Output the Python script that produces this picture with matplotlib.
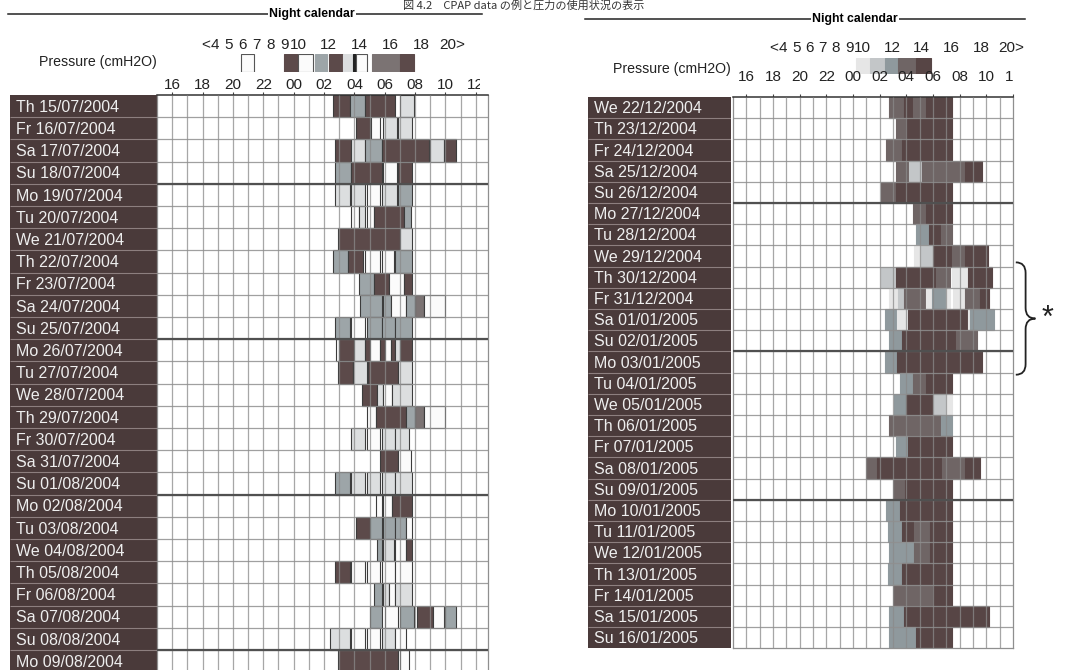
import numpy as np
import matplotlib.pyplot as plt
from matplotlib.patches import PathPatch
from matplotlib.path import Path
from matplotlib.lines import Line2D
from matplotlib.transforms import blended_transform_factory, Bbox, TransformedBbox

plt.rcParams['font.family'] = ['Liberation Sans', 'DejaVu Sans']

W, H = 1068, 670

# ---- data ----
left_dates = ["Th 15/07/2004", "Fr 16/07/2004", "Sa 17/07/2004", "Su 18/07/2004",
              "Mo 19/07/2004", "Tu 20/07/2004", "We 21/07/2004", "Th 22/07/2004",
              "Fr 23/07/2004", "Sa 24/07/2004", "Su 25/07/2004", "Mo 26/07/2004",
              "Tu 27/07/2004", "We 28/07/2004", "Th 29/07/2004", "Fr 30/07/2004",
              "Sa 31/07/2004", "Su 01/08/2004", "Mo 02/08/2004", "Tu 03/08/2004",
              "We 04/08/2004", "Th 05/08/2004", "Fr 06/08/2004", "Sa 07/08/2004",
              "Su 08/08/2004", "Mo 09/08/2004"]

right_dates = ["We 22/12/2004", "Th 23/12/2004", "Fr 24/12/2004", "Sa 25/12/2004",
               "Su 26/12/2004", "Mo 27/12/2004", "Tu 28/12/2004", "We 29/12/2004",
               "Th 30/12/2004", "Fr 31/12/2004", "Sa 01/01/2005", "Su 02/01/2005",
               "Mo 03/01/2005", "Tu 04/01/2005", "We 05/01/2005", "Th 06/01/2005",
               "Fr 07/01/2005", "Sa 08/01/2005", "Su 09/01/2005", "Mo 10/01/2005",
               "Tu 11/01/2005", "We 12/01/2005", "Th 13/01/2005", "Fr 14/01/2005",
               "Sa 15/01/2005", "Su 16/01/2005"]

# (start hour, end hour, pressure colour) -- hours past 24 are next morning
left_segments = [
    [(26.6, 27.7, 'd'), (27.7, 28.7, 'm'), (28.7, 30.7, 'd'), (31.0, 31.9, 'l')],
    [(28.1, 29.0, 'd'), (29.1, 29.7, 'w'), (29.9, 30.8, 'l'), (30.9, 31.8, 'l')],
    [(26.7, 27.8, 'd'), (27.8, 28.7, 'l'), (28.7, 29.8, 'm'), (29.8, 32.9, 'd'), (33.0, 33.9, 'l'), (33.9, 34.7, 'd')],
    [(26.7, 27.8, 'm'), (27.8, 29.8, 'd'), (29.9, 30.8, 'w'), (30.9, 31.8, 'd')],
    [(26.7, 27.7, 'l'), (27.8, 28.7, 'l'), (28.8, 29.7, 'w'), (29.8, 30.8, 'l'), (30.9, 31.8, 'm')],
    [(27.8, 28.3, 'w'), (28.3, 28.7, 'l'), (28.8, 29.3, 'w'), (29.3, 31.3, 'd'), (31.3, 31.7, 'm')],
    [(26.9, 31.0, 'd'), (31.0, 31.8, 'l')],
    [(26.6, 27.6, 'm'), (27.6, 28.6, 'd'), (28.7, 29.7, 'w'), (29.8, 30.6, 'w'), (30.7, 31.8, 'm')],
    [(28.3, 29.3, 'm'), (29.3, 30.3, 'd'), (30.3, 31.3, 'w'), (31.3, 31.8, 'd')],
    [(28.4, 29.8, 'm'), (29.9, 30.4, 'm'), (30.4, 31.4, 'w'), (31.4, 32.0, 'm'), (32.0, 32.6, 'g'), (32.6, 34.0, 'w')],
    [(26.7, 27.7, 'm'), (27.8, 28.7, 'w'), (28.8, 29.8, 'm'), (29.8, 30.7, 'm'), (30.7, 31.8, 'm')],
    [(26.8, 27.0, 'w'), (27.0, 28.0, 'd'), (28.0, 28.7, 'l'), (28.7, 29.0, 'd'), (29.0, 29.7, 'w'),
     (29.7, 30.0, 'd'), (30.0, 30.4, 'w'), (30.4, 30.7, 'd'), (30.7, 31.0, 'l'), (31.0, 31.8, 'd')],
    [(26.9, 27.9, 'd'), (27.9, 28.8, 'l'), (28.9, 30.9, 'd'), (30.9, 31.8, 'l')],
    [(28.5, 29.5, 'd'), (29.5, 29.9, 'l'), (29.9, 30.5, 'w'), (30.5, 31.8, 'l')],
    [(28.8, 29.4, 'w'), (29.4, 31.4, 'd'), (31.4, 32.0, 'm'), (32.0, 32.6, 'g'), (32.6, 34.0, 'w')],
    [(27.8, 28.7, 'l'), (28.8, 29.7, 'w'), (29.8, 30.7, 'l'), (30.7, 31.6, 'l')],
    [(29.7, 30.9, 'd'), (30.9, 31.7, 'w')],
    [(26.7, 27.7, 'm'), (27.8, 28.7, 'l'), (28.8, 29.7, 'l'), (29.8, 30.7, 'l'), (30.7, 31.8, 'l')],
    [(29.4, 29.8, 'w'), (29.9, 30.5, 'w'), (30.5, 31.8, 'd')],
    [(28.1, 29.0, 'd'), (29.0, 29.8, 'm'), (29.9, 30.7, 'm'), (30.7, 31.4, 'm'), (31.4, 31.8, 'w')],
    [(29.5, 29.8, 'm'), (29.9, 30.6, 'l'), (30.7, 31.4, 'w'), (31.4, 31.8, 'd')],
    [(26.7, 27.7, 'd'), (27.8, 28.7, 'w'), (28.8, 29.7, 'w'), (29.8, 30.7, 'w'), (30.7, 31.8, 'w')],
    [(29.3, 29.8, 'm'), (29.9, 30.3, 'l'), (30.3, 30.7, 'w'), (30.7, 31.8, 'l')],
    [(29.0, 29.8, 'm'), (30.0, 30.9, 'w'), (31.0, 31.9, 'm'), (32.1, 33.2, 'd'), (33.2, 33.9, 'w'), (34.0, 34.7, 'm')],
    [(26.4, 27.7, 'l'), (27.8, 28.7, 'w'), (28.8, 29.7, 'w'), (29.8, 30.7, 'l'), (30.7, 31.4, 'w')],
    [(26.9, 30.9, 'd'), (31.0, 31.6, 'w')],
]

right_segments = [
    [(26.7, 27.8, 4), (27.8, 28.5, 5), (28.5, 29.5, 4), (29.5, 31.4, 5)],
    [(27.2, 28.0, 4), (28.0, 31.4, 5)],
    [(26.5, 27.7, 4), (27.7, 31.4, 5)],
    [(27.2, 28.2, 4), (28.2, 29.2, 2), (29.2, 32.4, 4), (32.4, 33.7, 5)],
    [(26.1, 27.2, 4), (27.2, 31.4, 5)],
    [(28.5, 29.5, 4), (29.5, 31.4, 5)],
    [(28.7, 29.7, 3), (29.7, 30.6, 5), (30.6, 31.4, 4)],
    [(28.6, 29.1, 1), (29.1, 30.0, 2), (30.0, 31.4, 5), (31.4, 32.4, 4), (32.4, 34.1, 5)],
    [(26.1, 27.2, 2), (27.2, 30.2, 5), (30.2, 31.3, 4), (31.4, 32.6, 1), (32.6, 34.4, 5)],
    [(26.7, 27.4, 1), (27.4, 27.8, 2), (27.8, 29.5, 4), (29.5, 29.9, 1), (29.9, 31.0, 3),
     (31.0, 31.3, 1), (31.5, 32.4, 1), (32.4, 33.5, 4), (33.5, 34.2, 5)],
    [(26.4, 27.3, 3), (27.3, 27.5, 1), (27.6, 28.1, 1), (28.1, 32.6, 5), (32.6, 32.8, 1), (32.8, 34.6, 3)],
    [(26.7, 27.7, 3), (27.7, 31.7, 5), (31.7, 33.3, 4)],
    [(26.4, 27.3, 3), (27.3, 33.7, 5)],
    [(27.5, 28.5, 3), (28.5, 29.5, 4), (29.5, 31.4, 5)],
    [(27.1, 28.0, 3), (28.0, 30.0, 5), (30.0, 31.0, 2), (31.0, 31.4, 1)],
    [(26.7, 30.6, 4), (30.6, 31.4, 3)],
    [(27.2, 28.1, 3), (28.1, 31.4, 5)],
    [(25.0, 25.8, 4), (25.8, 30.7, 5), (30.7, 32.4, 4), (32.4, 33.5, 5)],
    [(27.0, 27.9, 4), (27.9, 31.4, 5)],
    [(26.5, 27.5, 3), (27.5, 31.4, 5)],
    [(26.6, 27.7, 3), (27.7, 28.6, 5), (28.6, 29.8, 4), (29.8, 31.4, 5)],
    [(26.7, 28.6, 3), (28.6, 29.8, 4), (29.8, 31.4, 5)],
    [(26.6, 27.7, 3), (27.7, 31.4, 5)],
    [(27.0, 30.0, 4), (30.0, 31.4, 5)],
    [(26.7, 27.8, 3), (27.8, 34.2, 5)],
    [(26.7, 28.7, 3), (28.7, 31.4, 5)],
]

legend_ticks = [3.3, 4, 5, 6, 7, 8, 9, 10, 12, 14, 16, 18, 20]
legend_labels = ['<', '4', '5', '6', '7', '8', '9', '10', '12', '14', '16', '18', '20>']
left_swatches = [(5.9, 6.8, 'w'), (9.0, 10.0, 'd'), (10.0, 11.0, 'w'), (11.1, 11.9, 'm'),
                 (12.0, 12.9, 'd'), (12.9, 13.6, 'l'), (13.6, 13.75, 'k'), (13.75, 14.5, 'w'),
                 (14.8, 16.6, 'g'), (16.6, 17.5, 'd')]
right_swatches = [(9.5, 10.5, 1), (10.5, 11.5, 2), (11.5, 12.4, 3), (12.4, 13.6, 4), (13.6, 14.6, 5)]

hour_ticks = list(range(16, 37, 2))

left_colors = {'w': '#fbfbfb', 'l': '#dcdedf', 'm': '#9da5a8', 'g': '#7b7373',
               'd': '#5c4a4a', 'k': '#222222'}
right_colors = {1: '#e6e6e6', 2: '#c3c6c8', 3: '#8f999d', 4: '#6f6565', 5: '#574545'}


def px_box(x0, y0, x1, y1):
    return [x0 / W, 1 - y1 / H, (x1 - x0) / W, (y1 - y0) / H]


def p_fwd(p):
    p = np.asarray(p, dtype=float)
    return np.where(p <= 10, p, 10 + (p - 10) * 1.12)


def p_inv(f):
    f = np.asarray(f, dtype=float)
    return np.where(f <= 10, f, 10 + (f - 10) / 1.12)


def draw_panel(fig, dates, segments, colors, outline, swatches, g):
    n = len(dates)
    bottom = g['top'] + n * g['row_h']

    # header "Night calendar"
    y = 1 - g['head_y'] / H
    fig.add_artist(Line2D([g['head_x'][0] / W, g['head_x'][1] / W], [y, y], color='#222', lw=1.1))
    fig.text(g['head_c'] / W, y, 'Night calendar', ha='center', va='center', fontsize=8.8,
             fontweight='bold', bbox=dict(facecolor='white', edgecolor='none', pad=0.6))
    fig.text(g['press'][0] / W, 1 - g['press'][1] / H, 'Pressure (cmH2O)', ha='center',
             va='center', fontsize=10.2, color='#222')

    # pressure legend
    lg = fig.add_axes(px_box(*g['legend']))
    lg.set_xscale('function', functions=(p_fwd, p_inv))
    lg.set_xlim(*g['legend_lim'])
    lg.set_ylim(0, 1)
    for s, e, c in swatches:
        lg.barh(0, e - s, left=s, height=1, align='edge', color=colors[c],
                edgecolor='#555' if c == 'w' else colors[c], lw=0.8)
    lg.set_xticks(legend_ticks, legend_labels)
    lg.xaxis.tick_top()
    lg.tick_params(axis='x', length=0, pad=g['legend_pad'], labelsize=11, labelcolor='#222')
    lg.set_yticks([])
    for sp in lg.spines.values():
        sp.set_visible(False)
    lg.patch.set_alpha(0)

    # date labels
    la = fig.add_axes(px_box(g['label_x'][0], g['top'], g['label_x'][1], bottom))
    la.set_facecolor('#4a3a3a')
    la.set_xlim(0, 1)
    la.set_ylim(n, 0)
    for i, d in enumerate(dates):
        la.text(0.04, i + 0.55, d, va='center', ha='left', fontsize=11.5, color='#eeeeee')
    la.hlines(range(1, n), 0, 1, color='#8d7f7f', lw=0.8)
    la.set_xticks([])
    la.set_yticks([])
    for sp in la.spines.values():
        sp.set_visible(False)

    # night grid
    ax = fig.add_axes(px_box(g['grid_x'][0], g['top'], g['grid_x'][1], bottom))
    ax.set_xlim(*g['hours'])
    ax.set_ylim(n, 0)
    for i, row in enumerate(segments):
        for s, e, c in row:
            ax.barh(i, e - s, left=s, height=1, align='edge', color=colors[c],
                    edgecolor=outline if outline else colors[c], lw=0.8, zorder=2)
    ax.vlines(range(16, int(np.ceil(g['hours'][1]))), 0, n, color='#8a8a8a', lw=0.9, alpha=0.75, zorder=3)
    ax.hlines(range(1, n), g['hours'][0], g['hours'][1], color='#8f8f8f', lw=0.9, alpha=0.85, zorder=3)
    sundays = [i + 1 for i, d in enumerate(dates) if d.startswith('Su') and i + 1 < n]
    ax.hlines(sundays, g['hours'][0], g['hours'][1], color='#505050', lw=1.6, zorder=4)
    ax.set_xticks(hour_ticks, ['%02d' % (h % 24) for h in hour_ticks])
    ax.xaxis.tick_top()
    ax.tick_params(axis='x', length=2.5, width=0.8, pad=g['time_pad'], labelsize=11,
                   color='#444', labelcolor='#222')
    clip = TransformedBbox(Bbox.from_extents(-0.2, 0, g['label_clip'], 1.5), ax.transAxes)
    for lab in ax.get_xticklabels():
        lab.set_clip_box(clip)
        lab.set_clip_on(True)
    ax.set_yticks([])
    for side, sp in ax.spines.items():
        sp.set_color('#333' if side == 'top' else '#8f8f8f')
        sp.set_linewidth(1.1 if side == 'top' else 0.9)
    return ax


fig = plt.figure(figsize=(W / 100, H / 100), dpi=100)

fig.text(0.49, 1 - 0.5 / H, '図 4.2　CPAP data の例と圧力の使用状況の表示', ha='center', va='top',
         fontsize=8, family=['Noto Sans CJK JP', 'DejaVu Sans'], color='#333')

left_geom = dict(head_y=14, head_x=(8, 482), head_c=312, press=(98, 62),
                 legend=(200, 54, 480, 72), legend_lim=(2.89, 21.8), legend_pad=1.5,
                 label_x=(10, 157), grid_x=(157, 488), hours=(15, 36.8), top=95, row_h=22.2,
                 time_pad=0, label_clip=0.975)
right_geom = dict(head_y=19, head_x=(585, 1025), head_c=855, press=(672, 69),
                  legend=(770, 58, 1030, 74), legend_lim=(3.02, 21.3), legend_pad=2,
                  label_x=(588, 731), grid_x=(733, 1013), hours=(15, 36), top=97, row_h=21.2,
                  time_pad=7, label_clip=1.0)

draw_panel(fig, left_dates, left_segments, left_colors, '#3c3c3c', left_swatches, left_geom)
rax = draw_panel(fig, right_dates, right_segments, right_colors, None, right_swatches, right_geom)

# brace marking the highlighted nights
tr = blended_transform_factory(rax.transAxes, rax.transData)
y0, ym, y1 = 7.8, 10.45, 13.1
x0, x1, x2 = 1.01, 1.045, 1.08
verts = [(x0, y0), (x1, y0), (x1, y0 + 0.5), (x1, ym - 0.5), (x1, ym), (x2, ym),
         (x1, ym), (x1, ym + 0.5), (x1, y1 - 0.5), (x1, y1), (x0, y1)]
codes = [Path.MOVETO, Path.CURVE3, Path.CURVE3, Path.LINETO, Path.CURVE3, Path.CURVE3,
         Path.CURVE3, Path.CURVE3, Path.LINETO, Path.CURVE3, Path.CURVE3]
rax.add_patch(PathPatch(Path(verts, codes), transform=tr, fill=False, lw=1.3,
                        edgecolor='#222', clip_on=False))
rax.text(1.125, ym, '*', transform=tr, fontsize=22, ha='center', va='center', color='#222')

fig.savefig('out.png', dpi=100)
